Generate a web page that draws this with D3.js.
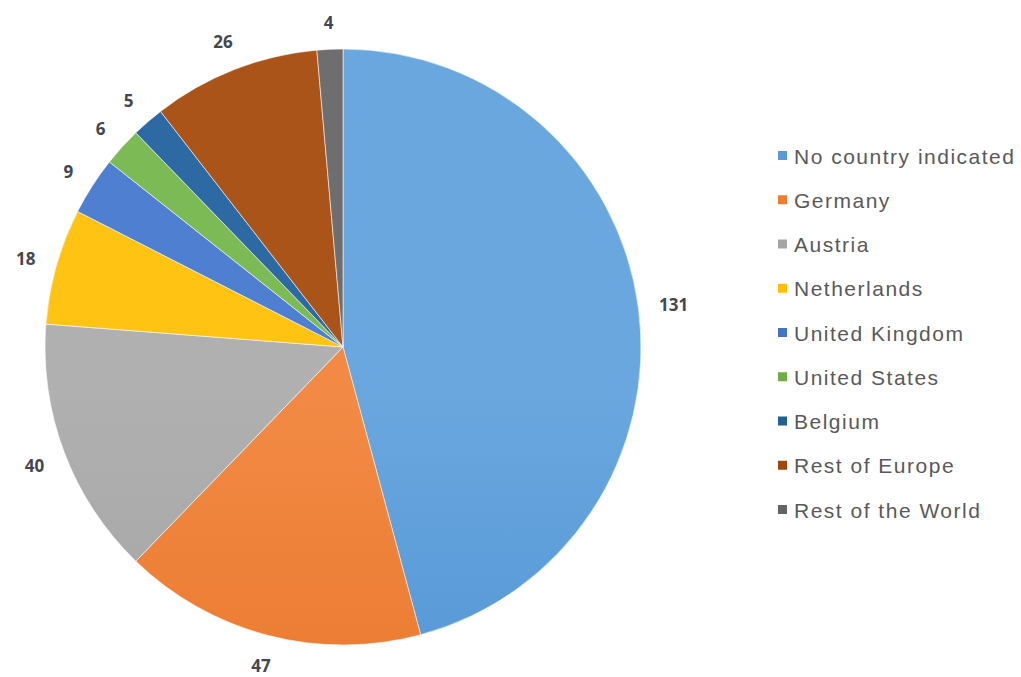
<!DOCTYPE html>
<html><head><meta charset="utf-8">
<script src="https://cdn.jsdelivr.net/npm/d3@7"></script>
<style>html,body{margin:0;padding:0;background:#fff;}</style>
</head><body>
<svg id="c" width="1021" height="677"></svg>
<script>
const categories = ["No country indicated","Germany","Austria","Netherlands","United Kingdom","United States","Belgium","Rest of Europe","Rest of the World"];
const values = [131,47,40,18,9,6,5,26,4];
const colorsTop = ["#6aa7df","#f28a45","#b0b0b0","#ffc413","#4f7fd0","#7cba55","#2d6aa3","#ab5419","#6e6e6e"];
const colorsBot = ["#3f87cc","#e46b1c","#999999","#f0b400","#3a64b4","#62a03a","#1f527f","#933f06","#585858"];
const legendColors = ["#5B9BD5","#ED7D31","#A5A5A5","#FFC000","#4472C4","#70AD47","#255E91","#9E480E","#636363"];

const svg = d3.select("#c");
const cx = 343, cy = 347, R = 298;
const defs = svg.append("defs");
categories.forEach((c,i)=>{
  const g = defs.append("linearGradient").attr("id","g"+i)
    .attr("gradientUnits","userSpaceOnUse")
    .attr("x1",0).attr("y1",cy-R).attr("x2",0).attr("y2",cy+R);
  g.append("stop").attr("offset","0%").attr("stop-color",colorsTop[i]);
  g.append("stop").attr("offset","100%").attr("stop-color",colorsBot[i]);
});

const pie = d3.pie().sort(null).value(d=>d);
const arcs = pie(values);
const arc = d3.arc().innerRadius(0).outerRadius(R);
const r0 = 318;

const gp = svg.append("g").attr("transform",`translate(${cx},${cy})`);
gp.selectAll("path").data(arcs).join("path")
  .attr("d",arc)
  .attr("fill",(d,i)=>`url(#g${i})`)
  .attr("stroke","#ffffff").attr("stroke-width",0.8).attr("stroke-opacity",0.7);

const labels = gp.selectAll("text").data(arcs).join("text")
  .attr("text-anchor","middle").attr("dominant-baseline","central")
  .attr("font-family","'Open Sans','Liberation Sans',Arial,sans-serif")
  .attr("font-weight","bold").attr("font-size",17).attr("fill","#44474f")
  .text(d=>d.data);
labels.each(function(d){
  const a = (d.startAngle+d.endAngle)/2;
  const ux = Math.sin(a), uy = -Math.cos(a);
  const bb = this.getBBox();
  const rr = r0 + (bb.width/2)*Math.abs(ux) + 8*Math.abs(uy);
  d3.select(this).attr("transform",`translate(${rr*ux},${rr*uy+1})`);
});

const lg = svg.append("g").attr("transform","translate(778,155)");
const rows = lg.selectAll("g").data(categories).join("g")
  .attr("transform",(d,i)=>`translate(0,${i*44.25})`);
rows.append("rect").attr("x",0).attr("y",-4).attr("width",9).attr("height",9)
  .attr("fill",(d,i)=>legendColors[i]);
rows.append("text").attr("x",16).attr("y",1).attr("dominant-baseline","central")
  .attr("font-family","'Liberation Sans',Arial,sans-serif").attr("font-size",21)
  .attr("letter-spacing",1.5)
  .attr("fill","#595959").text(d=>d);
</script>
</body></html>
